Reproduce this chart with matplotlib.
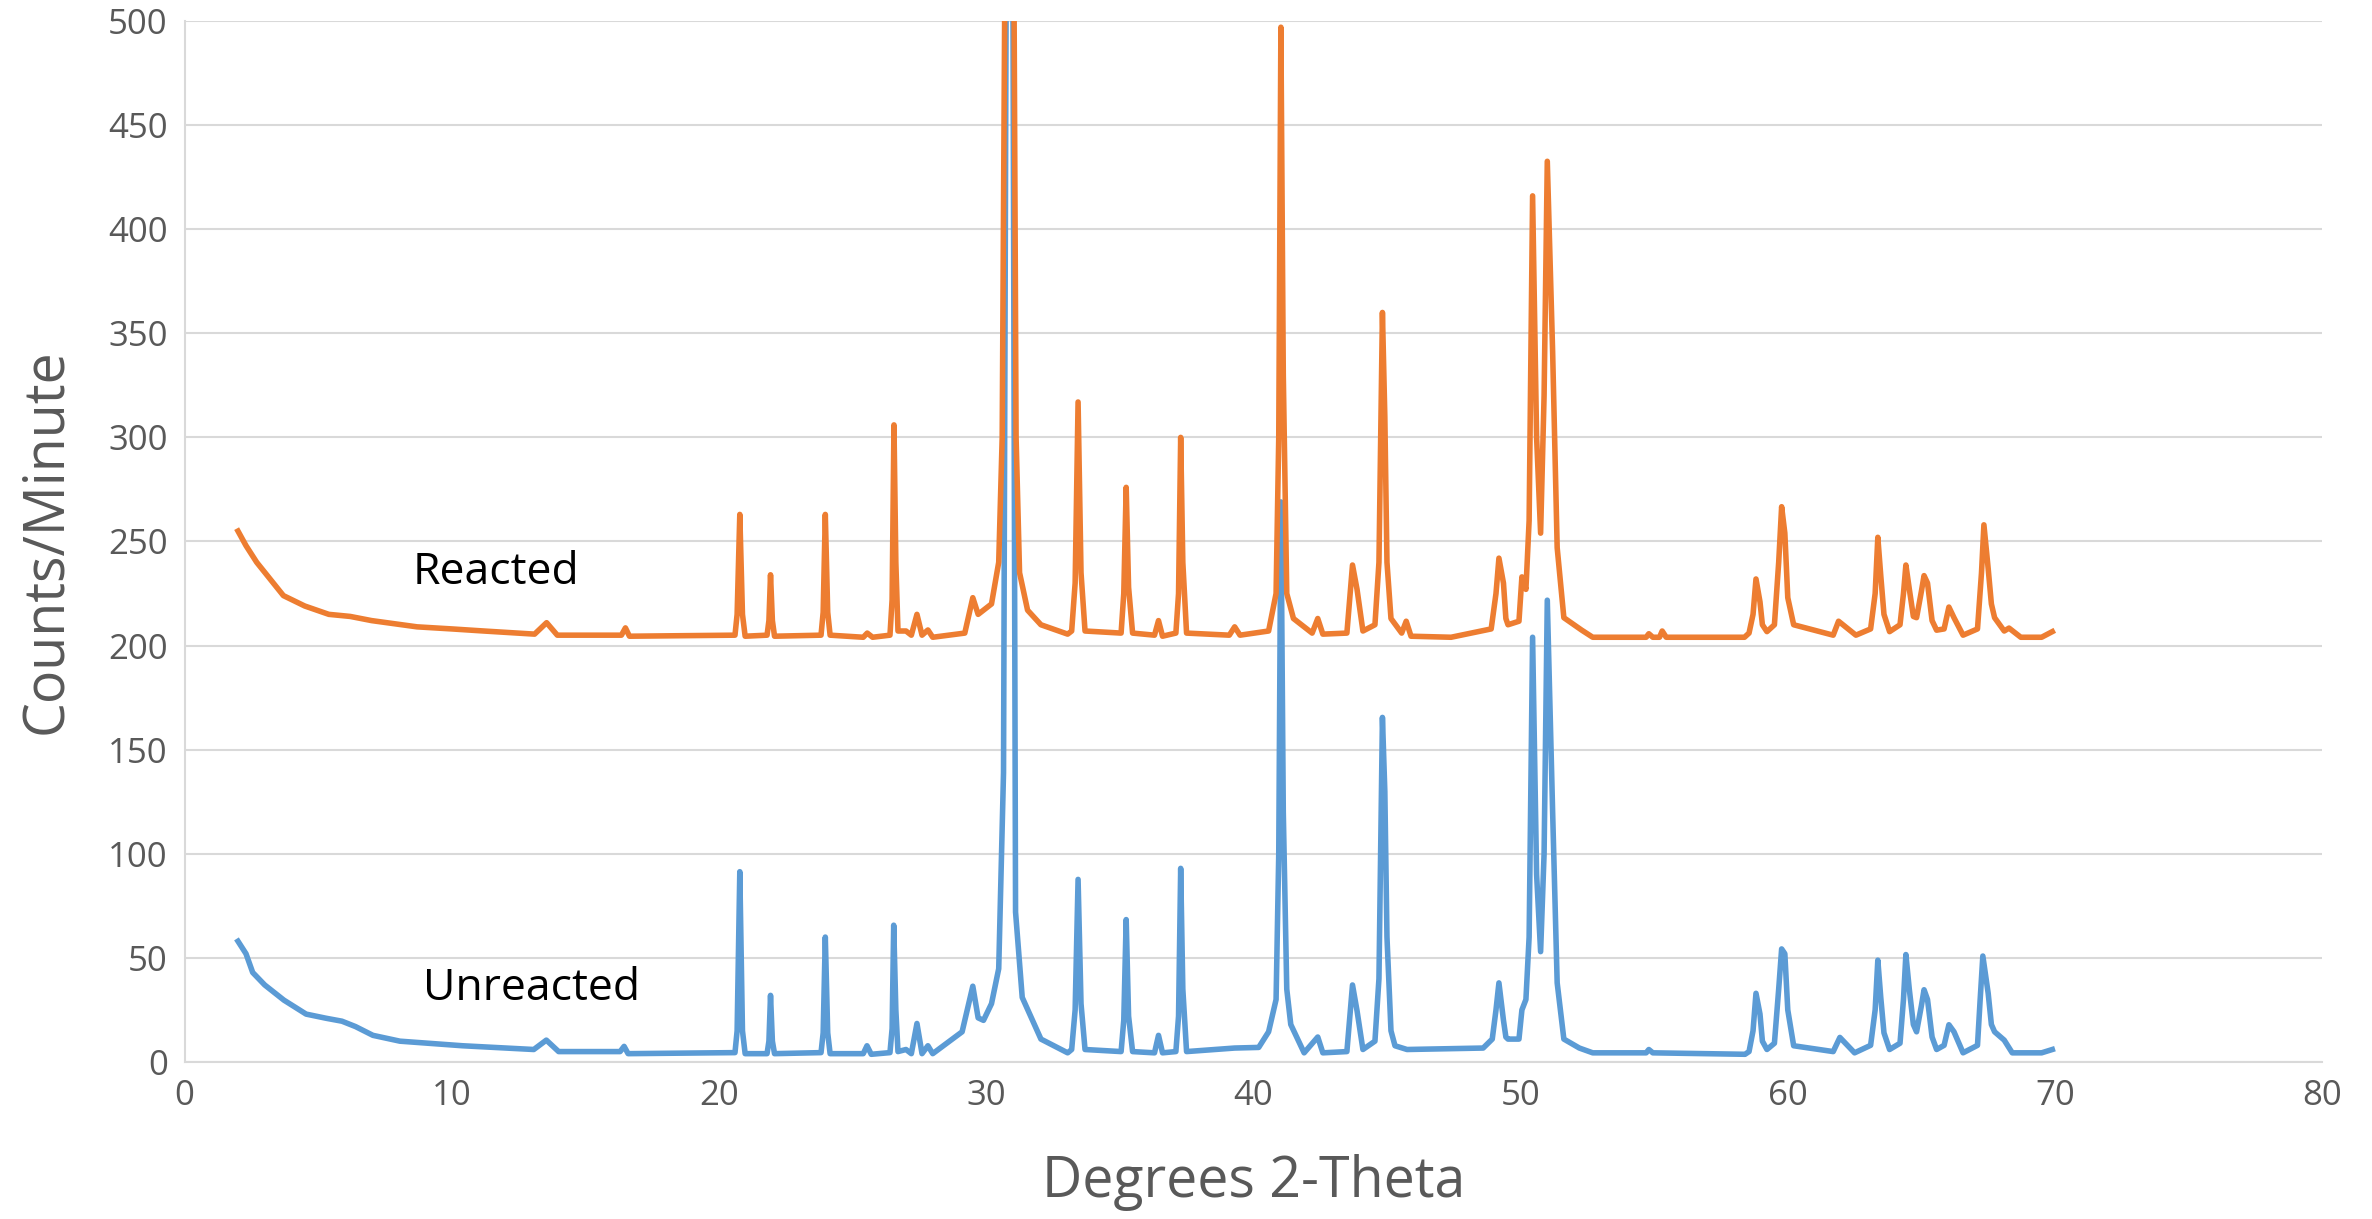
import matplotlib
matplotlib.use("Agg")
import matplotlib.pyplot as plt

# XRD pattern points (degrees 2-theta, counts/minute)
reacted_pts = [
    (2.0, 255), (2.3, 248), (2.7, 240), (3.2, 232), (3.7, 224), (4.5, 219), (5.4, 215),
    (6.2, 214), (7.0, 212), (8.7, 209), (10.0, 208), (11.2, 207), (13.1, 205.5),
    (13.55, 211), (13.95, 205), (16.35, 205), (16.5, 208.5), (16.65, 204.5),
    (20.6, 205), (20.68, 215), (20.78, 263), (20.88, 215), (20.98, 204.5),
    (21.8, 205), (21.87, 212), (21.93, 234), (22.0, 212), (22.08, 204.5),
    (23.82, 205), (23.9, 216), (23.98, 263), (24.07, 216), (24.16, 205),
    (25.4, 204), (25.55, 206), (25.75, 204),
    (26.4, 205), (26.48, 222), (26.55, 306), (26.62, 240), (26.7, 207),
    (27.0, 207), (27.2, 205), (27.41, 215), (27.6, 205), (27.82, 207.5), (28.0, 204),
    (29.2, 206), (29.5, 223), (29.7, 215), (30.2, 220), (30.47, 240), (30.6, 300),
    (30.7, 520), (30.87, 900), (31.04, 520), (31.12, 300), (31.25, 235), (31.55, 217),
    (32.05, 210), (33.05, 205.5),
    (33.2, 207), (33.33, 230), (33.44, 317), (33.55, 235), (33.7, 207),
    (35.05, 206), (35.15, 225), (35.24, 276), (35.33, 228), (35.48, 206),
    (36.3, 205), (36.45, 212), (36.6, 204.5),
    (37.1, 206), (37.2, 225), (37.28, 300), (37.36, 240), (37.5, 206),
    (39.1, 205), (39.3, 209), (39.5, 205), (40.57, 207),
    (40.85, 225), (40.95, 300), (41.03, 497), (41.12, 330), (41.25, 225), (41.5, 213),
    (42.2, 206), (42.41, 213), (42.6, 205.5),
    (43.5, 206), (43.71, 238.7), (43.88, 227), (44.1, 207),
    (44.55, 210), (44.7, 240), (44.83, 360), (44.92, 310), (45.0, 240), (45.15, 213),
    (45.55, 206), (45.72, 211.7), (45.9, 204.5), (47.4, 204),
    (48.9, 208), (49.08, 225), (49.19, 242), (49.36, 230), (49.45, 213), (49.53, 210),
    (49.94, 211.7), (50.05, 233),
    (50.2, 227), (50.32, 260), (50.45, 416), (50.6, 300), (50.75, 254), (50.88, 320),
    (51.0, 432.6), (51.2, 341), (51.37, 247), (51.62, 213.4), (52.29, 207.4), (52.7, 204),
    (54.7, 204), (54.8, 205.7), (54.95, 204), (55.2, 204), (55.3, 207), (55.45, 204),
    (58.38, 204), (58.55, 206), (58.7, 215), (58.81, 232), (58.96, 221), (59.05, 210),
    (59.22, 206.7), (59.5, 210), (59.66, 240), (59.77, 266.7), (59.89, 254), (60.0, 223),
    (60.22, 210), (61.7, 205), (61.9, 211.7), (62.55, 205),
    (63.1, 208), (63.27, 225), (63.37, 252), (63.48, 233.6), (63.6, 215), (63.81, 206.7),
    (64.2, 210), (64.33, 225), (64.42, 238.7), (64.55, 227), (64.7, 214), (64.82, 213.4),
    (65.0, 226), (65.1, 233.6), (65.23, 230), (65.4, 212), (65.57, 207.4),
    (65.85, 208), (66.03, 218.5), (66.22, 213.4), (66.56, 205),
    (67.1, 208), (67.25, 235), (67.34, 258), (67.5, 237), (67.62, 220), (67.74, 213.4),
    (68.1, 207), (68.28, 208.4), (68.72, 204), (69.5, 204), (69.9, 206.7),
]

unreacted_pts = [
    (2.0, 58), (2.3, 52), (2.55, 43), (3.0, 37), (3.72, 29.7), (4.55, 23), (5.3, 21),
    (5.89, 19.6), (6.4, 17), (7.05, 12.8), (8.06, 10), (10.4, 7.8), (13.07, 6),
    (13.54, 10.5), (14.0, 5), (16.3, 5), (16.45, 7.5), (16.6, 4),
    (20.6, 4.5), (20.68, 15), (20.78, 91.4), (20.88, 15), (20.98, 4),
    (21.8, 4), (21.87, 10), (21.93, 32), (22.0, 10), (22.08, 4),
    (23.82, 4.5), (23.9, 14), (23.98, 60), (24.07, 14), (24.16, 4),
    (25.4, 4), (25.54, 7.8), (25.7, 3.7),
    (26.4, 4.5), (26.48, 16), (26.54, 65.7), (26.62, 25), (26.7, 5),
    (27.0, 6), (27.2, 4), (27.41, 18.5), (27.6, 4), (27.82, 7.8), (28.0, 4),
    (29.1, 14.5), (29.5, 36.4), (29.7, 21.2), (29.9, 20), (30.2, 28), (30.47, 44.8),
    (30.65, 139), (30.75, 520), (30.87, 700), (31.0, 520), (31.1, 72), (31.35, 31),
    (32.05, 11), (33.05, 4.4),
    (33.2, 6), (33.33, 25), (33.44, 87.7), (33.55, 28), (33.7, 6),
    (35.05, 5), (35.15, 20), (35.24, 68.4), (35.33, 22), (35.48, 5),
    (36.3, 4.4), (36.45, 12.8), (36.6, 4.4),
    (37.1, 5), (37.2, 22), (37.28, 93), (37.36, 35), (37.5, 5),
    (39.3, 6.7), (40.2, 7), (40.57, 14.5),
    (40.85, 30), (40.95, 100), (41.03, 269), (41.12, 120), (41.25, 35), (41.4, 18),
    (41.9, 4.4), (42.41, 12), (42.6, 4.4), (43.5, 5), (43.71, 37), (43.88, 24.6), (44.1, 6),
    (44.55, 10), (44.7, 40), (44.83, 165.5), (44.92, 130), (45.0, 60), (45.15, 15),
    (45.3, 7.8), (45.75, 6), (48.6, 6.7),
    (48.94, 11), (49.08, 25), (49.19, 38), (49.36, 20), (49.45, 12), (49.53, 11),
    (49.94, 11), (50.05, 25), (50.2, 30),
    (50.32, 60), (50.45, 204), (50.6, 90), (50.75, 53), (50.88, 100), (51.0, 221.8),
    (51.2, 120), (51.37, 38), (51.62, 11), (52.2, 6.7), (52.7, 4.4), (54.7, 4.4), (54.8, 6),
    (54.95, 4.4), (58.4, 3.7),
    (58.55, 5), (58.7, 15), (58.81, 33), (58.96, 23), (59.05, 10), (59.22, 6),
    (59.5, 9), (59.66, 35), (59.77, 54.3), (59.89, 52), (60.0, 25), (60.22, 7.8),
    (61.7, 5), (61.95, 11.8), (62.5, 4.4),
    (63.1, 8), (63.27, 25), (63.37, 48.9), (63.48, 31), (63.6, 14), (63.81, 6),
    (64.2, 9), (64.33, 30), (64.42, 51.6), (64.55, 34.7), (64.7, 18), (64.82, 14.5),
    (65.0, 27), (65.1, 34.7), (65.23, 30), (65.4, 12), (65.57, 6), (65.85, 8),
    (66.03, 17.9), (66.22, 14.5), (66.56, 4.4),
    (67.1, 8), (67.2, 30), (67.3, 50.9), (67.5, 33), (67.62, 18), (67.74, 14.5),
    (68.1, 10.5), (68.4, 4.4), (69.5, 4.4), (69.9, 6),
]

x_ticks = [0, 10, 20, 30, 40, 50, 60, 70, 80]
y_ticks = [0, 50, 100, 150, 200, 250, 300, 350, 400, 450, 500]

plt.rcParams['font.family'] = ['Open Sans', 'DejaVu Sans']

fig = plt.figure(figsize=(23.72, 12.19), dpi=100)
ax = fig.add_axes([0.0778, 0.1288, 0.9012, 0.854])

rx, ry = zip(*reacted_pts)
ux, uy = zip(*unreacted_pts)
ax.plot(ux, uy, color='#5B9BD5', lw=4, solid_joinstyle='round')
ax.plot(rx, ry, color='#ED7D31', lw=4, solid_joinstyle='round')

ax.set_xlim(0, 80)
ax.set_ylim(0, 500)
ax.set_xticks(x_ticks)
ax.set_yticks(y_ticks)
ax.tick_params(length=0, labelsize=25, colors='#595959', pad=12)
ax.grid(axis='y', color='#D9D9D9', lw=1.5)
ax.set_axisbelow(True)
for s in ['top', 'right']:
    ax.spines[s].set_visible(False)
for s in ['left', 'bottom']:
    ax.spines[s].set_color('#D9D9D9')
    ax.spines[s].set_linewidth(1.5)

ax.set_xlabel('Degrees 2-Theta', fontsize=40, color='#595959', labelpad=30)
ax.set_ylabel('Counts/Minute', fontsize=40, color='#595959', labelpad=24)

ax.text(11.65, 235, 'Reacted', fontsize=32, color='black', ha='center', va='center')
ax.text(12.98, 35, 'Unreacted', fontsize=32, color='black', ha='center', va='center')

fig.savefig('out.png', dpi=100)
